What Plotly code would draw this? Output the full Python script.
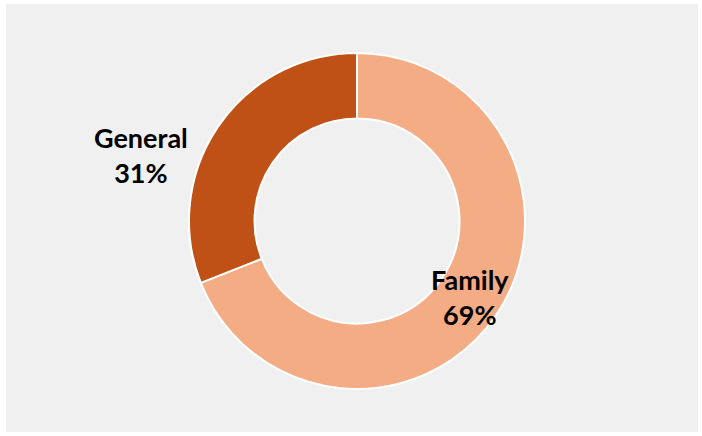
import plotly.graph_objects as go

labels = ["Family", "General"]
values = [69, 31]
colors = ["#F4AC85", "#C05116"]

W, H = 702, 436
cx, cy, r = 357, 221, 168

fig = go.Figure(go.Pie(
    labels=labels,
    values=values,
    hole=0.61,
    sort=False,
    direction="clockwise",
    rotation=0,
    marker=dict(colors=colors, line=dict(color="white", width=2)),
    textinfo="none",
    domain=dict(x=[(cx - r) / W, (cx + r) / W], y=[(H - cy - r) / H, (H - cy + r) / H]),
    showlegend=False,
    hoverinfo="label+percent",
))

total = sum(values)
label_pos = {"Family": (470, 297), "General": (141, 155)}
annotations = []
for lab, val in zip(labels, values):
    px, py = label_pos[lab]
    annotations.append(dict(
        x=px / W, y=1 - py / H, xref="paper", yref="paper",
        text=f"{lab}<br>{round(100 * val / total)}%",
        showarrow=False, xanchor="center", yanchor="middle",
        font=dict(family="Lato", size=27, color="black", weight="bold"),
    ))

fig.update_layout(
    width=W, height=H,
    margin=dict(l=0, r=0, t=0, b=0),
    paper_bgcolor="white",
    annotations=annotations,
    shapes=[dict(type="rect", xref="paper", yref="paper",
                 x0=6 / W, x1=698 / W, y0=4 / H, y1=1 - 4 / H,
                 fillcolor="#f0f0f0", line=dict(width=0), layer="below")],
)

fig.write_html("out.html")
